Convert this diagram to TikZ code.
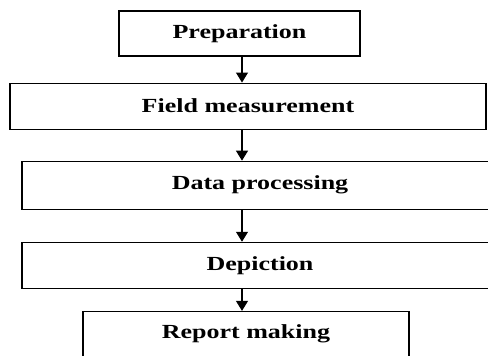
\documentclass[tikz,border=0pt]{standalone}
\usepackage{fontspec}
\setmainfont{Liberation Serif}[FakeStretch=1.3]
\usetikzlibrary{positioning,arrows.meta}
\tikzstyle{stage}=[draw,
rectangle,
line width=1.1pt,
font=\fontsize{20}{24}\selectfont\bfseries,
minimum height=46pt,
]
\tikzstyle{flow}=[line width=1.1pt,
-{Triangle[width=12pt,length=10pt]},
]

\begin{document}
\begin{tikzpicture}[x=1pt, y=1pt]
        \useasboundingbox (0,0) rectangle (488,-356);
        \clip (0,0) rectangle (488,-356);
        \node[stage, minimum width=241pt, minimum height=45pt] (prep) at (239.5,-33.5) {Preparation};
        \node[stage, minimum width=476pt, below=26pt of prep, xshift=8.5pt] (field) {Field measurement};
        \node[stage, minimum width=476pt, minimum height=48pt, below=31pt of field, xshift=12pt] (data) {Data processing};
        \node[stage, minimum width=476pt, below=32pt of data] (depict) {Depiction};
        \node[stage, minimum width=326pt, text height=14pt, text depth=40pt, inner ysep=13.5pt, below=22pt of depict, xshift=-14pt] (report) {Report making};
        \coordinate (axis) at (242,0);

        \draw[flow] (prep.south -| axis) -- (field.north -| axis);
        \draw[flow] (field.south -| axis) -- (data.north -| axis);
        \draw[flow] (data.south -| axis) -- (depict.north -| axis);
        \draw[flow] (depict.south -| axis) -- (report.north -| axis);
    \end{tikzpicture}
\end{document}
